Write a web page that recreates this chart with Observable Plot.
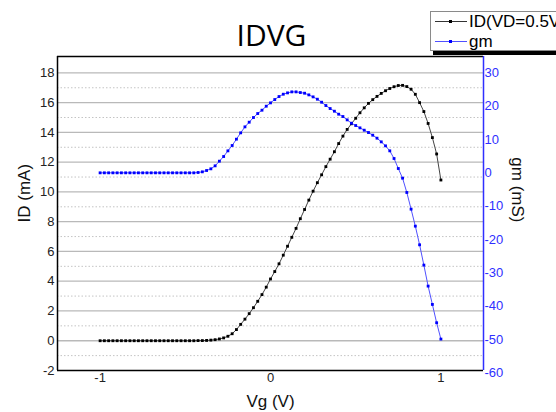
<!DOCTYPE html>
<html><head><meta charset="utf-8">
<script src="https://cdn.jsdelivr.net/npm/d3@7"></script>
<script src="https://cdn.jsdelivr.net/npm/@observablehq/plot@0.6"></script>
<style>
body{margin:0;background:#fff;}
#wrap{position:relative;width:556px;height:412px;overflow:hidden;font-family:"Liberation Sans",Arial,sans-serif;}
#legend{position:absolute;left:430px;top:11px;width:150px;height:38px;background:#fff;border:1px solid #8a8a8a;box-shadow:3px 4px 0 #000;}
.sw{position:absolute;left:4px;width:32px;height:1px;}
.mk{position:absolute;left:18px;width:3px;height:3px;}
.lt{position:absolute;left:38px;font-size:17px;line-height:17px;color:#000;white-space:nowrap;}
</style></head><body><div id="wrap"></div>
<script>
const vg = [-1, -0.975, -0.95, -0.925, -0.9, -0.875, -0.85, -0.825, -0.8, -0.775,
  -0.75, -0.725, -0.7, -0.675, -0.65, -0.625, -0.6, -0.575, -0.55, -0.525,
  -0.5, -0.475, -0.45, -0.425, -0.4, -0.375, -0.35, -0.325, -0.3, -0.275,
  -0.25, -0.225, -0.2, -0.175, -0.15, -0.125, -0.1, -0.075, -0.05, -0.025,
  0, 0.025, 0.05, 0.075, 0.1, 0.125, 0.15, 0.175, 0.2, 0.225,
  0.25, 0.275, 0.3, 0.325, 0.35, 0.375, 0.4, 0.425, 0.45, 0.475,
  0.5, 0.525, 0.55, 0.575, 0.6, 0.625, 0.65, 0.675, 0.7, 0.725,
  0.75, 0.775, 0.8, 0.825, 0.85, 0.875, 0.9, 0.925, 0.95, 0.975, 1];
const idMA = [0, 0, 0, 0, 0, 0, 0, 0, 0, 0,
  0, 0, 0, 0, 0, 0, 0, 0, 0, 0,
  0, 0, 0, 0.01, 0.01, 0.02, 0.04, 0.07, 0.12, 0.19,
  0.3, 0.47, 0.75, 1.1, 1.45, 1.82, 2.22, 2.65, 3.1, 3.6,
  4.15, 4.65, 5.17, 5.75, 6.35, 6.95, 7.55, 8.2, 8.82, 9.45,
  10.05, 10.62, 11.15, 11.7, 12.2, 12.7, 13.25, 13.75, 14.2, 14.58,
  14.95, 15.32, 15.65, 15.95, 16.2, 16.42, 16.62, 16.8, 16.95, 17.07,
  17.15, 17.16, 17.08, 16.9, 16.56, 16.0, 15.4, 14.6, 13.65, 12.55, 10.8];
const gmMS = [0, 0, 0, 0, 0, 0, 0, 0, 0, 0,
  0, 0, 0, 0, 0, 0, 0, 0, 0, 0,
  0, 0, 0, 0.1, 0.3, 0.7, 1.2, 2.1, 3.5, 4.9,
  6.6, 8.2, 10.1, 12.0, 13.8, 15.2, 16.6, 17.8, 18.8, 20.0,
  21.0, 22.0, 22.9, 23.6, 24.0, 24.3, 24.3, 24.1, 23.9, 23.4,
  22.8, 22.1, 21.2, 20.2, 19.3, 18.5, 17.6, 16.9, 15.9, 14.9,
  14.2, 13.5, 12.8, 12.1, 11.3, 10.4, 9.3, 8.1, 6.6, 4.3,
  1.3, -1.6, -5.9, -10.9, -16.0, -21.6, -27.7, -34.0, -39.5, -45.0, -49.9];
const xTicks = [-1, 0, 1];
const idTicks = [-2, 0, 2, 4, 6, 8, 10, 12, 14, 16, 18];
const idMinor = [-1, 1, 3, 5, 7, 9, 11, 13, 15, 17];
const gmTicks = [-60, -50, -40, -30, -20, -10, 0, 10, 20, 30];
const titleText = "IDVG";
const xLabel = "Vg (V)";
const yLabel = "ID (mA)";
const y2Label = "gm (mS)";
const legendLabels = ["ID(VD=0.5V)", "gm"];

// right-axis (gm) mapped into the left-axis (ID) coordinate space
const gmToY = g => (g + 50.4) / 4.467;
const yToGm = y => y * 4.467 - 50.4;
const xDom = [-1.25, 1.25];
const yDom = [-2, 19.1];
const blue = "#2f2fff";

const rows = vg.map((v, i) => ({vg: v, id: idMA[i], gmY: gmToY(gmMS[i])}));

const chart = Plot.plot({
  width: 556, height: 412,
  marginTop: 56, marginBottom: 42, marginLeft: 57, marginRight: 73,
  x: {domain: xDom, label: null},
  y: {domain: yDom, label: null},
  style: {fontFamily: "Liberation Sans, Arial, sans-serif", fontSize: "13px", color: "#222", background: "white"},
  marks: [
    Plot.ruleY(idMinor, {stroke: "#c4c4c4", strokeWidth: 1, strokeDasharray: "1.5,2"}),
    Plot.ruleY(idTicks.filter(d => d > yDom[0]), {stroke: "#b9b9b9", strokeWidth: 1.3}),
    Plot.line(rows, {x: "vg", y: "id", stroke: "#444", strokeWidth: 1}),
    Plot.dot(rows, {x: "vg", y: "id", symbol: "square", r: 1.6, fill: "#000", stroke: "none"}),
    Plot.line(rows, {x: "vg", y: "gmY", stroke: "#5050ff", strokeWidth: 1}),
    Plot.dot(rows, {x: "vg", y: "gmY", symbol: "square", r: 1.6, fill: "#0000ff", stroke: "none"}),
    Plot.ruleX([xDom[0]], {stroke: "#000", strokeWidth: 1.5}),
    Plot.ruleY([yDom[0]], {stroke: "#000", strokeWidth: 1.5}),
    Plot.ruleY([yDom[1]], {stroke: "#000", strokeWidth: 1.5}),
    Plot.ruleX([xDom[1]], {stroke: blue, strokeWidth: 1.5}),
    Plot.axisY(idTicks, {anchor: "left", tickSize: 0, tickPadding: 3, fontSize: 13, label: null, tickFormat: d => String(d)}),
    Plot.axisY(gmTicks.map(gmToY), {anchor: "right", tickSize: 0, tickPadding: 1, fontSize: 13, label: null, color: blue,
      tickFormat: d => String(Math.round(yToGm(d)))}),
    Plot.axisX(xTicks, {anchor: "bottom", tickSize: 0, tickPadding: 2, fontSize: 13, label: null, tickFormat: d => String(d)}),
    Plot.text([titleText], {text: d => d, frameAnchor: "top", dx: 1, dy: -11, lineAnchor: "bottom", fontSize: 30, fontFamily: "Open Sans", fill: "#000"}),
    Plot.text([xLabel], {text: d => d, frameAnchor: "bottom", dy: 36, lineAnchor: "bottom", fontSize: 17, fill: "#111"}),
    Plot.text([yLabel], {text: d => d, frameAnchor: "left", dx: -33, dy: 9, rotate: -90, fontSize: 17, fill: "#111"}),
    Plot.text([y2Label], {text: d => d, frameAnchor: "right", dx: 34, dy: 9, rotate: 90, fontSize: 17, fill: "#111"})
  ]
});

const wrap = document.getElementById("wrap");
wrap.appendChild(chart);
const lg = document.createElement("div");
lg.id = "legend";
lg.innerHTML =
  `<div class="sw" style="top:9px;background:#333"></div><div class="mk" style="top:8px;background:#000"></div>` +
  `<div class="lt" style="top:1px">${legendLabels[0]}</div>` +
  `<div class="sw" style="top:29px;background:#5050ff"></div><div class="mk" style="top:28px;background:#0000ff"></div>` +
  `<div class="lt" style="top:21px">${legendLabels[1]}</div>`;
wrap.appendChild(lg);
</script>
</body></html>
